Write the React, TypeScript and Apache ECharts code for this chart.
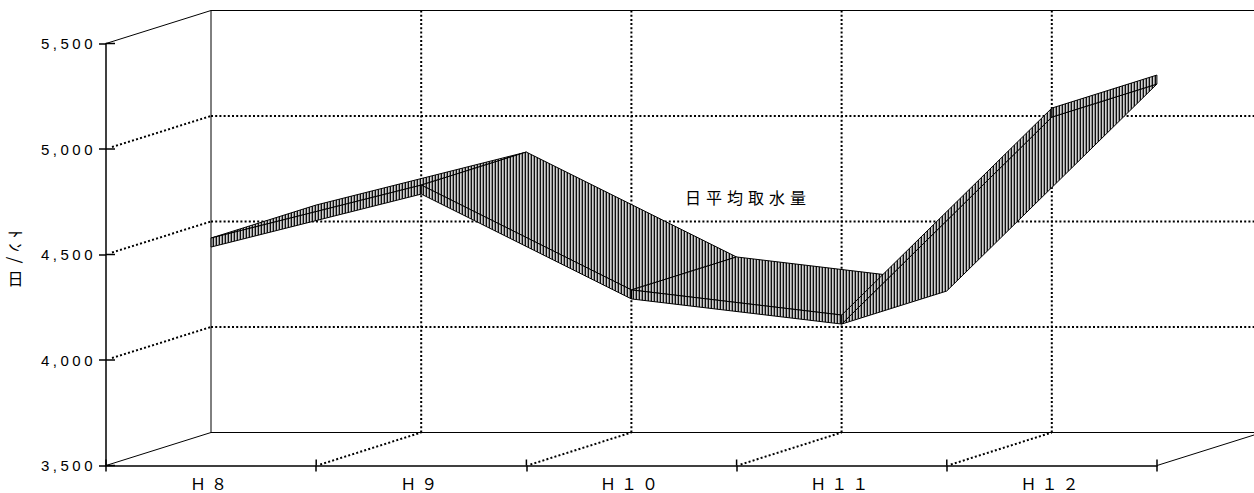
import React, { useEffect, useRef } from 'react';
import * as echarts from 'echarts';

// ---- data ----
const categories = ['Ｈ８', 'Ｈ９', 'Ｈ１０', 'Ｈ１１', 'Ｈ１２'];
const dailyIntake = [4578, 4829, 4332, 4213, 5194];
const seriesName = '日平均取水量';
const yTicks = [3500, 4000, 4500, 5000, 5500];
const yUnitRotated = 'ﾄﾝ/';
const yUnitUpright = '日';

// ---- style constants ----
const Y_MIN = 3500;
const Y_MAX = 5500;
const Y_STEP = 500;
const DX = 105; // depth offset (px)
const DY = -33;
const THICK = 9; // ribbon thickness (px)
const FONT = '"Noto Sans CJK JP", "Noto Sans", sans-serif';
const NUM_FONT = '"Liberation Sans", Arial, sans-serif';

function makeHatch(): any {
  const c = document.createElement('canvas');
  c.width = 3;
  c.height = 4;
  const ctx = c.getContext('2d')!;
  ctx.fillStyle = '#d0d0d0';
  ctx.fillRect(0, 0, 3, 4);
  ctx.fillStyle = '#111';
  ctx.fillRect(0, 0, 1, 4);
  ctx.fillStyle = '#8e8e8e';
  ctx.fillRect(2, 0, 1, 4);
  return { image: c.toDataURL(), repeat: 'repeat', imageWidth: 3, imageHeight: 4 };
}

export default function App() {
  const ref = useRef<HTMLDivElement>(null);

  useEffect(() => {
    if (!ref.current) return;
    const chart = echarts.init(ref.current, null, { renderer: 'svg' });
    const hatch = makeHatch();
    const solid = { stroke: '#000', lineWidth: 1, fill: 'none' };
    const dotted = { stroke: '#000', lineWidth: 2, lineDash: [2, 2.2], fill: 'none' };

    const line = (x1: number, y1: number, x2: number, y2: number, style: any) => ({
      type: 'line',
      shape: { x1, y1, x2, y2 },
      style,
    });

    const frameRender = (params: any, api: any) => {
      const cs = params.coordSys;
      const x0 = cs.x;
      const x1 = cs.x + cs.width;
      const yTop = api.coord([0, Y_MAX])[1];
      const yBot = api.coord([0, Y_MIN])[1];
      const band = api.size([1, 0])[0];
      const children: any[] = [];
      // back wall box
      children.push(line(x0 + DX, yTop + DY, x1 + DX + 20, yTop + DY, solid));
      children.push(line(x0 + DX, yTop + DY, x0 + DX, yBot + DY, solid));
      children.push(line(x0 + DX, yBot + DY, x1 + DX + 20, yBot + DY, solid));
      // left wall edges
      children.push(line(x0, yTop, x0 + DX, yTop + DY, solid));
      children.push(line(x0, yBot, x0 + DX, yBot + DY, solid));
      // floor right edge
      children.push(line(x1, yBot, x1 + DX, yBot + DY, solid));
      // value gridlines
      yTicks.forEach((v) => {
        if (v === Y_MIN || v === Y_MAX) return;
        const y = api.coord([0, v])[1];
        children.push(line(x0 + 6, y - 2, x0 + DX, y + DY, dotted));
        children.push(line(x0 + DX, y + DY, x1 + DX + 20, y + DY, dotted));
      });
      // category boundaries
      for (let i = 1; i < categories.length; i++) {
        const bx = api.coord([i, Y_MIN])[0] - band / 2;
        children.push(line(bx + 4, yBot - 1, bx + DX, yBot + DY, dotted));
        children.push(line(bx + DX, yBot + DY, bx + DX, yTop + DY, dotted));
      }
      // inner halves of the axis ticks
      yTicks.forEach((v) => {
        const y = api.coord([0, v])[1];
        children.push(line(x0, y, x0 + 9, y, { stroke: '#000', lineWidth: 1.5 }));
      });
      for (let i = 0; i <= categories.length; i++) {
        const bx = api.coord([Math.min(i, categories.length - 1), Y_MIN])[0] + (i === categories.length ? band / 2 : -band / 2);
        children.push(line(bx, yBot, bx, yBot - 6, { stroke: '#000', lineWidth: 1.5 }));
      }
      return { type: 'group', children };
    };

    const ribbonRender = (params: any, api: any) => {
      const i = api.value(0);
      const v = api.value(1);
      const [xa, ya] = api.coord([i, v]);
      const edge = { stroke: '#000', lineWidth: 1, fill: hatch };
      const children: any[] = [];
      if (i < dailyIntake.length - 1) {
        const [xb, yb] = api.coord([i + 1, dailyIntake[i + 1]]);
        const rise = (ya - yb) / (xb - xa);
        const topVisible = rise < -DY / DX;
        const o = topVisible ? 0 : THICK;
        children.push({
          type: 'polygon',
          shape: {
            points: [
              [xa, ya + o],
              [xb, yb + o],
              [xb + DX, yb + o + DY],
              [xa + DX, ya + o + DY],
            ],
          },
          style: edge,
        });
        children.push({
          type: 'polygon',
          shape: {
            points: [
              [xa, ya],
              [xb, yb],
              [xb, yb + THICK],
              [xa, ya + THICK],
            ],
          },
          style: edge,
        });
      } else {
        children.push({
          type: 'polygon',
          shape: {
            points: [
              [xa, ya],
              [xa + DX, ya + DY],
              [xa + DX, ya + DY + THICK],
              [xa, ya + THICK],
            ],
          },
          style: edge,
        });
      }
      return { type: 'group', children };
    };

    chart.setOption({
      animation: false,
      backgroundColor: '#fff',
      grid: { left: 106, right: 97, top: 43.5, bottom: 27.5, containLabel: false },
      xAxis: {
        type: 'category',
        data: categories,
        boundaryGap: true,
        z: 5,
        axisLine: { show: true, lineStyle: { color: '#000', width: 1.5 } },
        axisTick: { show: true, interval: 0, length: 6, lineStyle: { color: '#000', width: 1.5 } },
        axisLabel: { margin: 9, color: '#000', fontSize: 16, fontFamily: FONT, interval: 0 },
        splitLine: { show: false },
      },
      yAxis: {
        type: 'value',
        min: Y_MIN,
        max: Y_MAX,
        interval: Y_STEP,
        z: 5,
        axisLine: { show: true, lineStyle: { color: '#000', width: 1.5 } },
        axisTick: { show: true, length: 7, lineStyle: { color: '#000', width: 1.5 } },
        axisLabel: {
          margin: 10,
          color: '#000',
          fontSize: 15,
          fontFamily: NUM_FONT,
          formatter: (val: number) => val.toLocaleString('en-US'),
        },
        splitLine: { show: false },
      },
      graphic: [
        {
          type: 'text',
          x: 16,
          y: 249,
          rotation: -Math.PI / 2,
          style: { text: yUnitRotated, font: `17px ${FONT}`, fill: '#000', align: 'center', verticalAlign: 'middle' },
        },
        {
          type: 'text',
          x: 18,
          y: 278,
          style: { text: yUnitUpright, font: `16px ${FONT}`, fill: '#000', align: 'center', verticalAlign: 'middle' },
        },
        {
          type: 'text',
          x: 748,
          y: 197,
          z: 10,
          style: { text: seriesName, font: `16px ${FONT}`, fill: '#000', align: 'center', verticalAlign: 'middle' },
        },
      ],
      series: [
        {
          type: 'custom',
          name: 'frame',
          z: 1,
          clip: false,
          silent: true,
          data: [[0, Y_MIN]],
          renderItem: frameRender,
        },
        {
          type: 'custom',
          name: seriesName,
          z: 3,
          clip: false,
          data: dailyIntake.map((v, i) => [i, v]),
          encode: { x: 0, y: 1 },
          renderItem: ribbonRender,
        },
      ],
    });
    return () => chart.dispose();
  }, []);

  return (
    <>
      <style>{`#root svg text { letter-spacing: 5px; } #root svg text[style*="Liberation"] { letter-spacing: 3.5px; }`}</style>
      <div ref={ref} style={{ position: 'absolute', left: 0, top: 0, width: 1254, height: 493 }} />
    </>
  );
}
